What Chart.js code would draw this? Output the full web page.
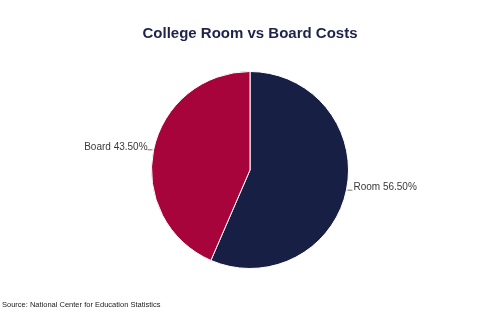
<!DOCTYPE html>
<html>
<head>
<meta charset="utf-8">
<script src="https://cdn.jsdelivr.net/npm/chart.js@4.4.0/dist/chart.umd.min.js"></script>
<style>
  html, body { margin: 0; padding: 0; background: #fff; }
  #wrap { width: 500px; height: 313px; position: relative; }
</style>
</head>
<body>
<div id="wrap"><canvas id="cost-chart"></canvas></div>
<script>
const categories = ['Room', 'Board'];
const shares = [56.5, 43.5];
const sliceColors = ['#181f45', '#a6043a'];
const sourceNote = 'Source: National Center for Education Statistics';

// draws the "Room 56.50%" labels with a short leader line at each slice middle
const sliceLabels = {
  id: 'sliceLabels',
  afterDatasetsDraw(chart) {
    const c = chart.ctx;
    const meta = chart.getDatasetMeta(0);
    c.save();
    c.font = '10px "Liberation Sans", Arial, sans-serif';
    c.fillStyle = '#3a3a3a';
    c.strokeStyle = '#555';
    c.lineWidth = 0.8;
    meta.data.forEach((arc, i) => {
      const p = arc.getProps(['x', 'y', 'startAngle', 'endAngle', 'outerRadius'], true);
      const mid = (p.startAngle + p.endAngle) / 2;
      const px = p.x + Math.cos(mid) * (p.outerRadius + 1);
      const py = p.y + Math.sin(mid) * (p.outerRadius + 1);
      const left = Math.cos(mid) < 0;
      const txt = categories[i] + ' ' + shares[i].toFixed(2) + '%';
      c.beginPath();
      c.moveTo(px, py);
      c.lineTo(px + (left ? -5 : 5), py);
      c.stroke();
      c.textAlign = left ? 'right' : 'left';
      c.textBaseline = 'alphabetic';
      c.fillText(txt, px + (left ? -5 : 6), py);
    });
    c.restore();
  }
};

const sourceLine = {
  id: 'sourceLine',
  afterDraw(chart) {
    const c = chart.ctx;
    c.save();
    c.font = '7.5px "Liberation Sans", Arial, sans-serif';
    c.fillStyle = '#222';
    c.textAlign = 'left';
    c.textBaseline = 'middle';
    c.fillText(sourceNote, 2, 305);
    c.restore();
  }
};

new Chart(document.getElementById('cost-chart'), {
  type: 'pie',
  data: {
    labels: categories,
    datasets: [{
      data: shares,
      backgroundColor: sliceColors,
      borderColor: '#ffffff',
      borderWidth: 1
    }]
  },
  options: {
    responsive: true,
    maintainAspectRatio: false,
    animation: false,
    layout: { padding: { top: 0, bottom: 44, left: 0, right: 0 } },
    plugins: {
      legend: { display: false },
      tooltip: { enabled: false },
      title: {
        display: true,
        text: 'College Room vs Board Costs',
        color: '#1d2349',
        font: { family: '"Liberation Sans", Arial, sans-serif', size: 15, weight: 'bold' },
        padding: { top: 25, bottom: 28 }
      }
    }
  },
  plugins: [sliceLabels, sourceLine]
});
</script>
</body>
</html>
